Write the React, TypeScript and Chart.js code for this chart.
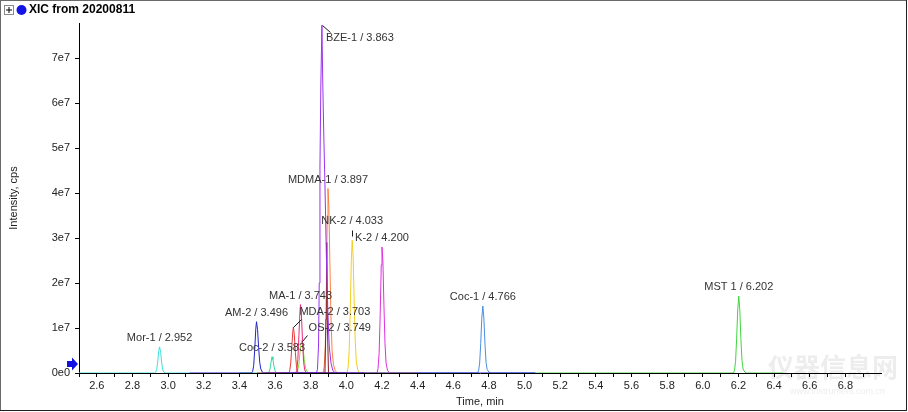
import React, { useEffect, useRef } from "react";
import { Chart, registerables } from "chart.js";

Chart.register(...registerables);

type Pt = [number, number];

// ---------- axis ticks ----------
const xTicks = [2.5, 2.6, 2.7, 2.8, 2.9, 3.0, 3.1, 3.2, 3.3, 3.4, 3.5, 3.6, 3.7, 3.8, 3.9, 4.0, 4.1, 4.2, 4.3, 4.4, 4.5, 4.6, 4.7, 4.8, 4.9, 5.0, 5.1, 5.2, 5.3, 5.4, 5.5, 5.6, 5.7, 5.8, 5.9, 6.0, 6.1, 6.2, 6.3, 6.4, 6.5, 6.6, 6.7, 6.8, 6.9];
const xTickLabels = ["2.6", "2.8", "3.0", "3.2", "3.4", "3.6", "3.8", "4.0", "4.2", "4.4", "4.6", "4.8", "5.0", "5.2", "5.4", "5.6", "5.8", "6.0", "6.2", "6.4", "6.6", "6.8"];
const yTicks = [0, 1e7, 2e7, 3e7, 4e7, 5e7, 6e7, 7e7];
const yTickLabels = ["0e0", "1e7", "2e7", "3e7", "4e7", "5e7", "6e7", "7e7"];

// ---------- traces (time, min ; intensity, cps) ----------
const mor1: Pt[] = [[2.5, 0], [2.924, 0], [2.93, 1.5e5], [2.936, 8e5], [2.942, 2.6e6], [2.948, 5.0e6], [2.952, 5.8e6], [2.958, 4.6e6], [2.964, 2.2e6], [2.97, 7e5], [2.976, 2e5], [2.984, 3e4], [2.99, 0], [3.12, 0]];
const am2: Pt[] = [[3.12, 0], [3.468, 0], [3.474, 3e5], [3.48, 1.6e6], [3.486, 5.2e6], [3.492, 9.8e6], [3.496, 1.14e7], [3.502, 9.6e6], [3.508, 5.6e6], [3.514, 2.4e6], [3.52, 9e5], [3.528, 2.5e5], [3.536, 0], [5.06, 0]];
const coc2: Pt[] = [[3.4, 0], [3.56, 0], [3.566, 2e5], [3.572, 9e5], [3.578, 2.5e6], [3.583, 3.6e6], [3.588, 3.0e6], [3.594, 1.5e6], [3.6, 5e5], [3.606, 1.2e5], [3.614, 0], [3.8, 0]];
const mda2: Pt[] = [[3.5, 0], [3.676, 0], [3.682, 4e5], [3.688, 2.2e6], [3.694, 5.8e6], [3.7, 9.4e6], [3.703, 1.02e7], [3.708, 8.6e6], [3.714, 4.6e6], [3.72, 1.6e6], [3.726, 4e5], [3.734, 0], [3.9, 0]];
const ma1: Pt[] = [[3.55, 0], [3.716, 0], [3.722, 6e5], [3.728, 3.0e6], [3.734, 8.4e6], [3.74, 1.38e7], [3.743, 1.52e7], [3.748, 1.3e7], [3.754, 7.2e6], [3.76, 2.6e6], [3.766, 7e5], [3.774, 1e5], [3.78, 0], [3.95, 0]];
const os2: Pt[] = [[3.55, 0], [3.718, 0], [3.726, 4e5], [3.734, 2.0e6], [3.742, 5.4e6], [3.749, 7.2e6], [3.756, 6.0e6], [3.764, 3.0e6], [3.772, 1.0e6], [3.78, 3e5], [3.79, 5e4], [3.8, 0], [3.95, 0]];
const bze1: Pt[] = [[3.65, 0], [3.832, 0], [3.838, 8e5], [3.844, 6e6], [3.848, 2.0e7], [3.852, 4.6e7], [3.857, 6.4e7], [3.863, 7.73e7], [3.868, 6.4e7], [3.874, 5.2e7], [3.88, 4.2e7], [3.888, 2.6e7], [3.896, 1.4e7], [3.904, 6e6], [3.914, 2.2e6], [3.924, 6e5], [3.936, 0], [4.1, 0]];
const bze2: Pt[] = [[3.7, 0], [3.88, 0], [3.886, 1.2e7], [3.89, 2.9e7], [3.894, 1.0e7], [3.9, 0], [4.0, 0]];
const mdma1: Pt[] = [[3.7, 0], [3.87, 0], [3.876, 1.5e6], [3.882, 6e6], [3.888, 1.9e7], [3.893, 3.5e7], [3.897, 4.1e7], [3.902, 3.7e7], [3.908, 2.4e7], [3.914, 1.2e7], [3.92, 5e6], [3.928, 1.8e6], [3.938, 5e5], [3.95, 0], [4.1, 0]];
const nk2: Pt[] = [[3.85, 0], [4.004, 0], [4.01, 1.2e6], [4.016, 5e6], [4.022, 1.4e7], [4.028, 2.5e7], [4.033, 2.95e7], [4.038, 2.6e7], [4.044, 1.6e7], [4.05, 7e6], [4.056, 2.5e6], [4.064, 7e5], [4.074, 0], [4.4, 0]];
const k2: Pt[] = [[4.0, 0], [4.172, 0], [4.178, 1.0e6], [4.184, 4.5e6], [4.19, 1.3e7], [4.196, 2.4e7], [4.2, 2.8e7], [4.205, 2.5e7], [4.211, 1.5e7], [4.217, 6.5e6], [4.223, 2.2e6], [4.231, 6e5], [4.242, 0], [4.4, 0]];
const coc1: Pt[] = [[4.4, 0], [4.736, 0], [4.742, 5e5], [4.748, 2.2e6], [4.754, 6.5e6], [4.76, 1.22e7], [4.766, 1.49e7], [4.772, 1.2e7], [4.778, 6.4e6], [4.784, 2.4e6], [4.79, 8e5], [4.8, 2e5], [4.812, 0], [5.06, 0]];
const mst1: Pt[] = [[5.06, 0], [6.172, 0], [6.178, 6e5], [6.184, 2.6e6], [6.19, 7.6e6], [6.196, 1.4e7], [6.202, 1.71e7], [6.208, 1.38e7], [6.214, 7.4e6], [6.22, 2.8e6], [6.226, 9e5], [6.236, 2e5], [6.246, 0], [6.45, 0]];

// compound names and retention times (label text)
const traceNames = ["AM-2", "BZE-1", "BZE-2", "MDMA-1", "MA-1", "MDA-2", "OS-2", "Coc-2", "NK-2", "K-2", "Coc-1", "Mor-1", "MST 1"];
const traceRTs = [3.496, 3.863, 3.89, 3.897, 3.743, 3.703, 3.749, 3.583, 4.033, 4.2, 4.766, 2.952, 6.202];
const traceLabelled = [true, true, false, true, true, true, true, true, true, true, true, true, true];
const traceData: Pt[][] = [am2, bze1, bze2, mdma1, ma1, mda2, os2, coc2, nk2, k2, coc1, mor1, mst1];

// ---------- styles ----------
const traceColors = ["#2424cc", "#9a33ee", "#8a1c2c", "#ff8040", "#e8287a", "#e83a3a", "#84dc3c", "#3cd6a0", "#f2cf22", "#e030e0", "#4a8fe2", "#3ee0e0", "#40d640"];
// label layout in pixels relative to apex: dx, dy, align, leader
type Lay = { dx: number; dy: number; align: CanvasTextAlign; leader?: [number, number, number, number] };
const labelLayout: Record<string, Lay> = {
  "MDA-2": { dx: 6, dy: -15, align: "left", leader: [0, 0, 8, -8] },
  "OS-2": { dx: 7, dy: -13, align: "left", leader: [0, 0, 5, -6] },
  "BZE-1": { dx: 4, dy: 13, align: "left", leader: [0, 0, 8, 7] },
  "NK-2": { dx: 0, dy: -19, align: "center", leader: [0, -4, 0, -10] },
};
const defaultLay: Lay = { dx: 0, dy: -9, align: "center" };

const FONT = '"Liberation Sans", Arial, sans-serif';

const decorPlugin = {
  id: "decor",
  beforeDraw(chart: any) {
    const { ctx, width, height } = chart;
    ctx.save();
    ctx.fillStyle = "#ffffff";
    ctx.fillRect(0, 0, width, height);
    // watermark
    ctx.fillStyle = "rgba(190,190,190,0.28)";
    ctx.font = `bold 26px "Noto Sans CJK SC", sans-serif`;
    ctx.textBaseline = "middle";
    ctx.textAlign = "left";
    ctx.fillText("仪器信息网", 768, 367);
    ctx.font = `9px ${FONT}`;
    ctx.fillText("www.instrument.com.cn", 790, 392);
    ctx.restore();
  },
  afterDraw(chart: any) {
    const { ctx, width, height } = chart;
    ctx.save();
    // frame
    ctx.strokeStyle = "#6a6a6a";
    ctx.lineWidth = 1;
    ctx.strokeRect(0.5, 0.5, width - 2, height - 2);
    ctx.strokeStyle = "#202020";
    ctx.beginPath();
    ctx.moveTo(0, height - 1.5);
    ctx.lineTo(width - 1.5, height - 1.5);
    ctx.lineTo(width - 1.5, 0);
    ctx.stroke();
    // header: + box, blue dot, title
    ctx.strokeStyle = "#8a8a8a";
    ctx.strokeRect(4.5, 5.5, 9, 9);
    ctx.strokeStyle = "#000";
    ctx.beginPath();
    ctx.moveTo(6, 10);
    ctx.lineTo(12, 10);
    ctx.moveTo(9, 7);
    ctx.lineTo(9, 13);
    ctx.stroke();
    ctx.fillStyle = "#1414e6";
    ctx.beginPath();
    ctx.arc(21.5, 10, 5, 0, Math.PI * 2);
    ctx.fill();
    ctx.fillStyle = "#000";
    ctx.font = `bold 12px ${FONT}`;
    ctx.textBaseline = "middle";
    ctx.textAlign = "left";
    ctx.fillText("XIC from 20200811", 29, 10);
    // blue arrow marker on y axis
    ctx.fillStyle = "#1010e0";
    ctx.beginPath();
    ctx.moveTo(67, 361);
    ctx.lineTo(72, 361);
    ctx.lineTo(72, 357.5);
    ctx.lineTo(78, 364);
    ctx.lineTo(72, 370.5);
    ctx.lineTo(72, 367);
    ctx.lineTo(67, 367);
    ctx.closePath();
    ctx.fill();
    ctx.restore();
  },
};

const labelPlugin = {
  id: "peakLabels",
  afterDatasetsDraw(chart: any) {
    const { ctx } = chart;
    const xs = chart.scales.x;
    const ys = chart.scales.y;
    ctx.save();
    ctx.font = `11px ${FONT}`;
    ctx.fillStyle = "#333";
    ctx.strokeStyle = "#1a1a1a";
    ctx.lineWidth = 1;
    ctx.textBaseline = "middle";
    traceData.forEach((pts, i) => {
      if (!traceLabelled[i]) return;
      const name = traceNames[i];
      const apex = Math.max(...pts.map((p) => p[1]));
      const px = xs.getPixelForValue(traceRTs[i]);
      const py = ys.getPixelForValue(apex);
      const lay = labelLayout[name] || defaultLay;
      if (lay.leader) {
        const [a, b, c, d] = lay.leader;
        ctx.beginPath();
        ctx.moveTo(Math.round(px + a) + 0.5, Math.round(py + b) + 0.5);
        ctx.lineTo(Math.round(px + c) + 0.5, Math.round(py + d) + 0.5);
        ctx.stroke();
      }
      ctx.textAlign = lay.align;
      ctx.fillText(`${name} / ${traceRTs[i].toFixed(3)}`, px + lay.dx, py + lay.dy);
    });
    ctx.restore();
  },
};

export default function App() {
  const ref = useRef<HTMLCanvasElement | null>(null);
  useEffect(() => {
    if (!ref.current) return;
    const chart = new Chart(ref.current, {
      type: "line",
      data: {
        datasets: traceData.map((pts, i) => ({
          label: traceNames[i],
          data: pts.map(([x, y]) => ({ x, y })),
          borderColor: traceColors[i],
          backgroundColor: traceColors[i],
          borderWidth: 1,
          pointRadius: 0,
          tension: 0,
          fill: false,
        })),
      },
      options: {
        animation: false,
        responsive: false,
        events: [],
        layout: { padding: { left: 0, right: 27, top: 23, bottom: 0 } },
        plugins: { legend: { display: false }, tooltip: { enabled: false }, title: { display: false } },
        scales: {
          x: {
            type: "linear",
            min: 2.5,
            max: 7.0,
            afterFit: (s: any) => {
              s.height = 39;
            },
            afterBuildTicks: (s: any) => {
              s.ticks = xTicks.map((v) => ({ value: v }));
            },
            ticks: {
              autoSkip: false,
              maxRotation: 0,
              padding: 2,
              color: "#222",
              font: { family: FONT, size: 11 },
              callback: (v: any) => {
                const s = Number(v).toFixed(1);
                return xTickLabels.includes(s) ? s : "";
              },
            },
            grid: { drawOnChartArea: false, drawTicks: true, tickLength: 4, color: "#000" },
            border: { display: true, color: "#000", width: 1 },
            title: {
              display: true,
              text: "Time, min",
              color: "#222",
              font: { family: FONT, size: 11 },
              padding: { top: 0, bottom: 3 },
            },
          },
          y: {
            type: "linear",
            min: 0,
            max: 7.78e7,
            afterFit: (s: any) => {
              s.width = 79;
            },
            afterBuildTicks: (s: any) => {
              s.ticks = yTicks.map((v) => ({ value: v }));
            },
            ticks: {
              autoSkip: false,
              padding: 5,
              color: "#222",
              font: { family: FONT, size: 11 },
              callback: (v: any) => {
                const idx = yTicks.indexOf(Number(v));
                return idx >= 0 ? yTickLabels[idx] : "";
              },
            },
            grid: { drawOnChartArea: false, drawTicks: true, tickLength: 4, color: "#000" },
            border: { display: true, color: "#000", width: 1 },
            title: {
              display: true,
              text: "Intensity, cps",
              color: "#222",
              font: { family: FONT, size: 11 },
              padding: { top: 7, bottom: 0 },
            },
          },
        },
      },
      plugins: [decorPlugin, labelPlugin],
    } as any);
    return () => chart.destroy();
  }, []);
  return (
    <div style={{ position: "absolute", left: 0, top: 0, width: 908, height: 412 }}>
      <canvas ref={ref} width={908} height={412} style={{ display: "block" }} />
    </div>
  );
}
